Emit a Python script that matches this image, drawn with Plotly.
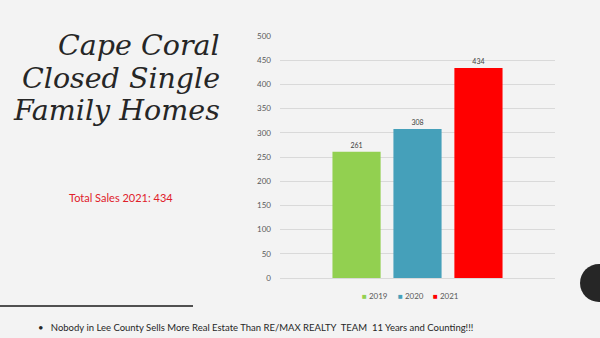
import plotly.graph_objects as go

# Closed single family home sales, Cape Coral
years = ["2019", "2020", "2021"]
sales = [261, 308, 434]
colors = ["#92d050", "#45a0ba", "#ff0000"]
y_ticks = [0, 50, 100, 150, 200, 250, 300, 350, 400, 450, 500]

W, H = 600, 338
L, R, T, B = 280, 45, 36, 60  # plot margins in px
pw, ph = W - L - R, H - T - B


def px(x):
    return (x - L) / pw


def py(y):
    return (H - B - y) / ph


fig = go.Figure()
for yr, val, col in zip(years, sales, colors):
    fig.add_trace(go.Bar(
        x=[""], y=[val], name=yr, marker=dict(color=col, line=dict(width=0)),
        text=[str(val)], textposition="outside", cliponaxis=False,
        textfont=dict(size=7, color="#404040", family="Lato"),
        showlegend=False,
    ))

fig.update_layout(
    width=W, height=H,
    margin=dict(l=L, r=R, t=T, b=B),
    paper_bgcolor="#f3f3f3", plot_bgcolor="#f3f3f3",
    barmode="group", bargap=0.335, bargroupgap=0.21,
    xaxis=dict(showticklabels=False, showgrid=False, zeroline=False, showline=False,
               range=[-0.5, 0.5]),
    yaxis=dict(range=[0, 500], tickvals=y_ticks, showgrid=True, gridcolor="#d9d9d9",
               gridwidth=1, zeroline=True, zerolinecolor="#d9d9d9", zerolinewidth=1,
               showline=False, ticks="", ticklabelstandoff=8,
               tickfont=dict(size=8, color="#595959", family="Lato")),
    font=dict(family="Lato"),
)

# compact legend row: coloured square followed by the year
legend_x0, legend_step = 360, 35.5
for i, (yr, col) in enumerate(zip(years, colors)):
    fig.add_annotation(
        text=f"<span style='color:{col}'>■</span> {yr}", xref="paper", yref="paper",
        x=px(legend_x0 + i * legend_step), y=py(296), xanchor="left", yanchor="middle",
        showarrow=False, font=dict(family="Lato", size=8, color="#595959"),
    )

title_lines = ["Cape Coral", "Closed Single", "Family Homes"]
for i, line in enumerate(title_lines):
    fig.add_annotation(
        text=f"<i>{line}</i>", xref="paper", yref="paper", x=px(222), y=py(45 + i * 33),
        xanchor="right", yanchor="middle", showarrow=False,
        font=dict(family="DejaVu Serif", size=28.5, color="#262626"),
    )

fig.add_annotation(
    text="Total Sales 2021: 434", xref="paper", yref="paper",
    x=px(121), y=py(197), xanchor="center", yanchor="middle", showarrow=False,
    font=dict(family="Lato", size=11, color="#e0202a"),
)

fig.add_annotation(
    text="•   Nobody in Lee County Sells More Real Estate Than RE/MAX REALTY  TEAM  11 Years and Counting!!!",
    xref="paper", yref="paper", x=px(36), y=py(327), xanchor="left", yanchor="middle",
    showarrow=False, font=dict(family="Lato", size=9.5, color="#262626"),
)

# separator rule under the chart area
fig.add_shape(type="line", xref="paper", yref="paper",
              x0=px(0), x1=px(193), y0=py(306), y1=py(306),
              line=dict(color="#1a1a1a", width=1.5))

# dark circle on the right edge
fig.add_shape(type="circle", xref="paper", yref="paper",
              x0=px(580), x1=px(618), y0=py(264), y1=py(302),
              fillcolor="#262626", line=dict(width=0))

fig.write_html("out.html")
